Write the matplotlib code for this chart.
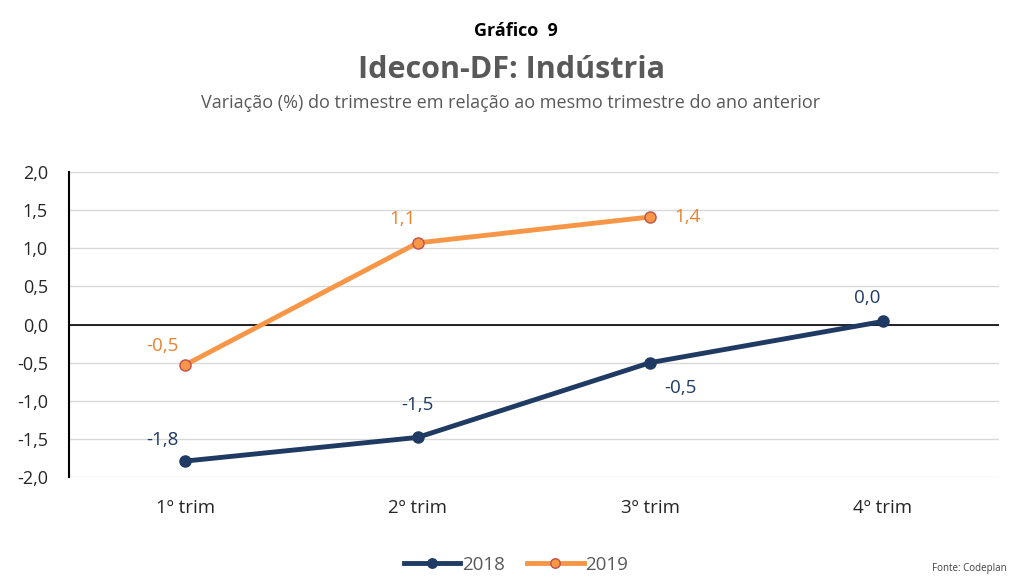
import matplotlib.pyplot as plt
import numpy as np

plt.rcParams['font.family'] = ['Open Sans', 'DejaVu Sans']

# data
categories = ['1º trim', '2º trim', '3º trim', '4º trim']
values_2018 = [-1.79, -1.48, -0.50, 0.04]
values_2019 = [-0.53, 1.07, 1.41]
labels_2018 = ['-1,8', '-1,5', '-0,5', '0,0']
labels_2019 = ['-0,5', '1,1', '1,4']
yticks = [-2.0, -1.5, -1.0, -0.5, 0.0, 0.5, 1.0, 1.5, 2.0]

navy = '#1F3A63'
orange = '#F79646'
orange_txt = '#E9822F'

fig = plt.figure(figsize=(10.12, 5.79), dpi=100)
ax = fig.add_axes([0.068, 0.176, 0.919, 0.527])

x = np.arange(len(categories))
ax.plot(x, values_2018, color=navy, lw=3.5, marker='o', ms=8,
        mfc=navy, mec=navy, label='2018', zorder=3)
ax.plot(x[:len(values_2019)], values_2019, color=orange, lw=3.5, marker='o',
        ms=8, mfc=orange, mec='#C0504D', mew=1, label='2019', zorder=3)

# data labels (offsets in points)
off_2018 = [(-16, 15), (0, 23), (22, -18), (-11, 17)]
off_2019 = [(-16, 14), (-11, 17), (27, 0)]
for xi, v, lab, off in zip(x, values_2018, labels_2018, off_2018):
    ax.annotate(lab, (xi, v), xytext=off, textcoords='offset points',
                ha='center', va='center', color=navy, fontsize=13.5)
for xi, v, lab, off in zip(x, values_2019, labels_2019, off_2019):
    ax.annotate(lab, (xi, v), xytext=off, textcoords='offset points',
                ha='center', va='center', color=orange_txt, fontsize=13.5)

ax.set_xlim(-0.5, 3.5)
ax.set_ylim(-2.0, 2.0)
ax.set_yticks(yticks)
ax.set_yticklabels([f'{t:.1f}'.replace('.', ',') for t in yticks],
                   fontsize=13, color='#262626')
ax.set_xticks(x)
ax.set_xticklabels(categories, fontsize=13.5, color='#262626')
ax.tick_params(axis='both', length=0)
ax.tick_params(axis='x', pad=16)
ax.tick_params(axis='y', pad=15)

ax.grid(axis='y', color='#D9D9D9', lw=1)
ax.set_axisbelow(True)
ax.axhline(0, color='black', lw=1.2, zorder=2)
for s in ['top', 'right', 'bottom']:
    ax.spines[s].set_visible(False)
ax.spines['left'].set_color('black')
ax.spines['left'].set_linewidth(1.5)

fig.text(0.51, 0.947, 'Gráfico  9', ha='center', va='center',
         fontsize=13, fontweight='bold', color='black')
fig.text(0.505, 0.879, 'Idecon-DF: Indústria', ha='center', va='center',
         fontsize=22, fontweight='bold', color='#595959')
fig.text(0.505, 0.822,
         'Variação (%) do trimestre em relação ao mesmo trimestre do ano anterior',
         ha='center', va='center', fontsize=13, color='#595959')

leg = fig.legend(loc='center', bbox_to_anchor=(0.51, 0.025), ncol=2,
                 frameon=False, fontsize=13.5, handlelength=3,
                 columnspacing=1.2, handletextpad=0.1, markerscale=0.85)
for t in leg.get_texts():
    t.set_color('#595959')

fig.text(0.995, 0.008, 'Fonte: Codeplan', ha='right', va='bottom',
         fontsize=7, color='#404040')

fig.savefig('out.png', dpi=100)
